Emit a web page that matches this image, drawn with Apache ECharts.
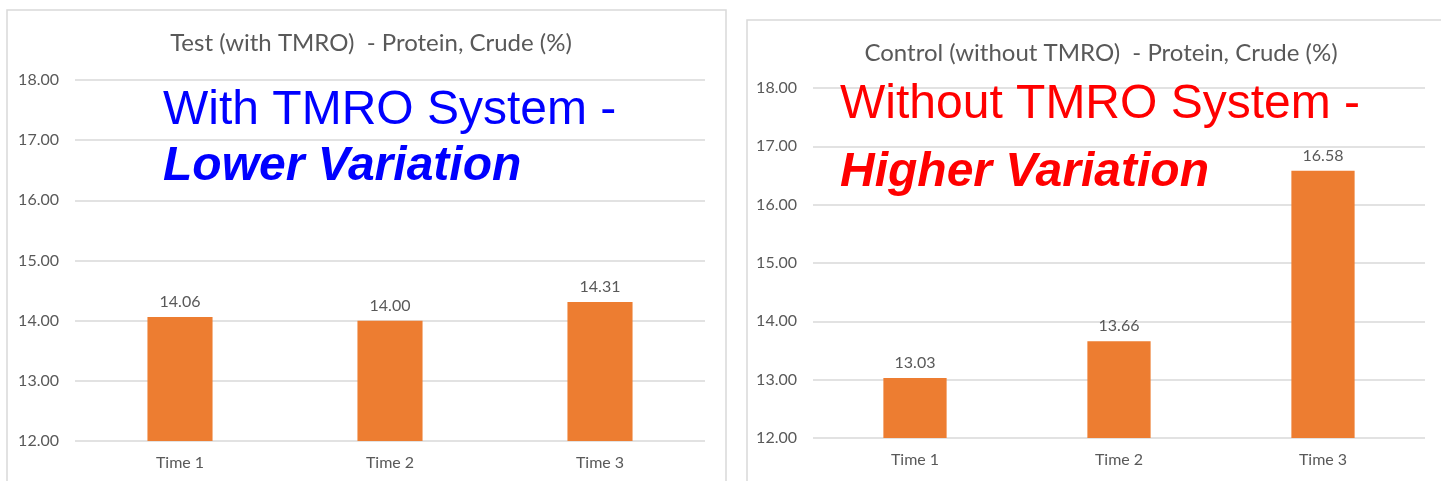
<!DOCTYPE html>
<html><head><meta charset="utf-8">
<script src="https://cdn.jsdelivr.net/npm/echarts@6/dist/echarts.min.js"></script>
<style>html,body{margin:0;padding:0;background:#fff}#c{width:1441px;height:481px}</style>
</head><body><div id="c"></div>
<script>
const categories = ['Time 1', 'Time 2', 'Time 3'];
const testValues = [14.06, 14.00, 14.31];
const controlValues = [13.03, 13.66, 16.58];
const testTitle = 'Test (with TMRO)  - Protein, Crude (%)';
const controlTitle = 'Control (without TMRO)  - Protein, Crude (%)';
const yMin = 12, yMax = 18, yStep = 1;

const gray = '#595959';
const font = 'Lato';
const chart = echarts.init(document.getElementById('c'));

function yAxis(idx) {
  return {
    type: 'value', gridIndex: idx, min: yMin, max: yMax, interval: yStep,
    axisLabel: { color: gray, fontSize: 16, fontFamily: font, margin: 16, formatter: v => v.toFixed(2) },
    axisLine: { show: false }, axisTick: { show: false },
    splitLine: { lineStyle: { color: '#d9d9d9', width: 1.5 } }
  };
}
function xAxis(idx) {
  return {
    type: 'category', gridIndex: idx, data: categories,
    axisLine: { show: false }, axisTick: { show: false },
    axisLabel: { color: gray, fontSize: 16, fontFamily: font, margin: 14 }
  };
}
function bar(idx, data) {
  return {
    type: 'bar', xAxisIndex: idx, yAxisIndex: idx, data: data, barWidth: '31%',
    itemStyle: { color: '#ED7D31' },
    label: { show: true, position: 'top', distance: 7, color: gray, fontSize: 16, fontFamily: font, formatter: p => p.value.toFixed(2) }
  };
}

chart.setOption({
  animation: false,
  title: [
    { text: testTitle, left: 366, top: 26, textAlign: 'center', textStyle: { color: gray, fontSize: 24, fontWeight: 'normal', fontFamily: font } },
    { text: controlTitle, left: 1096, top: 36, textAlign: 'center', textStyle: { color: gray, fontSize: 24, fontWeight: 'normal', fontFamily: font } }
  ],
  grid: [
    { left: 75, right: 736, top: 80, bottom: 40 },
    { left: 813, right: 16, top: 88, bottom: 43 }
  ],
  xAxis: [xAxis(0), xAxis(1)],
  yAxis: [yAxis(0), yAxis(1)],
  series: [bar(0, testValues), bar(1, controlValues)],
  graphic: [
    { type: 'rect', shape: { x: 7, y: 10, width: 719, height: 490 }, style: { fill: 'none', stroke: '#d9d9d9', lineWidth: 1.5 }, z: -1 },
    { type: 'rect', shape: { x: 747, y: 20, width: 700, height: 490 }, style: { fill: 'none', stroke: '#d9d9d9', lineWidth: 1.5 }, z: -1 },
    { type: 'text', left: 163, top: 87, style: { text: 'With TMRO System -', fill: '#0000ff', font: '48px "Liberation Sans"' }, z: 10 },
    { type: 'text', left: 163, top: 143, style: { text: 'Lower Variation', fill: '#0000ff', font: 'italic bold 48px "Liberation Sans"' }, z: 10 },
    { type: 'text', left: 840, top: 81, style: { text: 'Without TMRO System -', fill: '#ff0000', font: '48px "Liberation Sans"' }, z: 10 },
    { type: 'text', left: 840, top: 149, style: { text: 'Higher Variation', fill: '#ff0000', font: 'italic bold 48px "Liberation Sans"' }, z: 10 }
  ]
});
</script></body></html>
